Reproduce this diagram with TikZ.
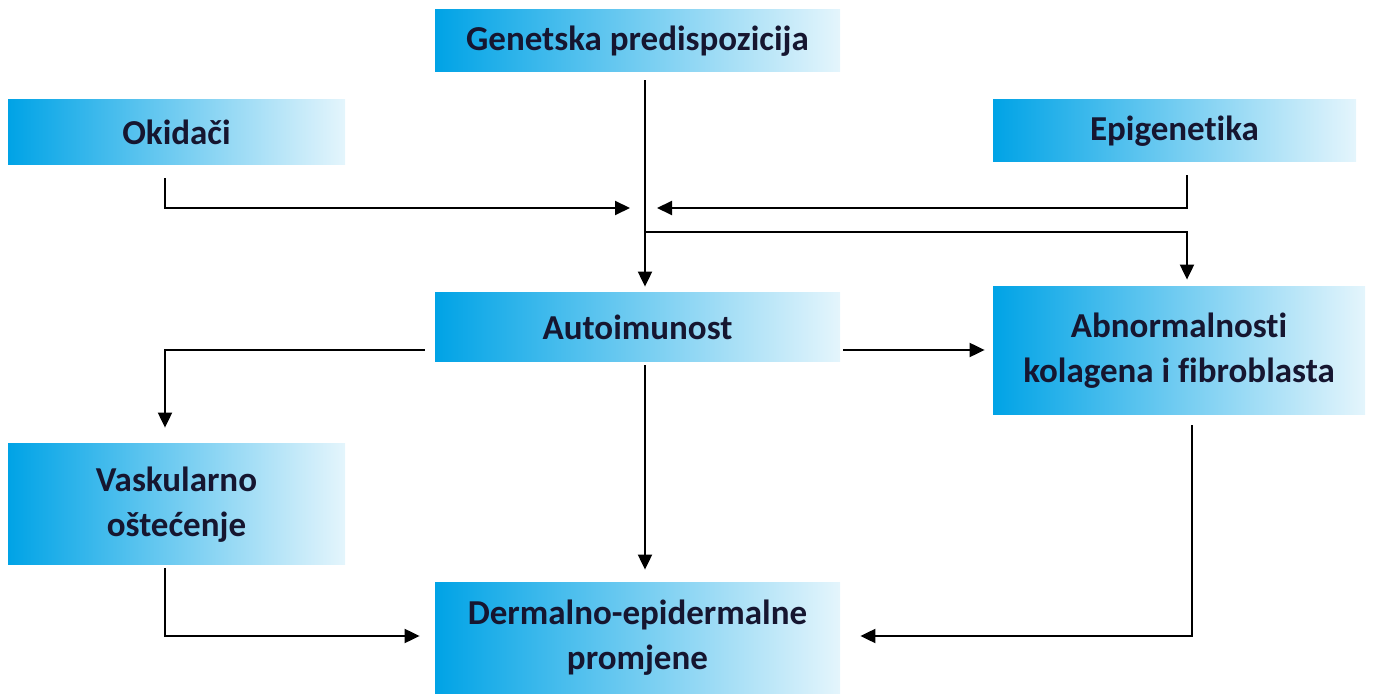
\documentclass[tikz,border=0pt]{standalone}
\usepackage{fontspec}
\setmainfont[Ligatures=NoCommon]{Carlito}
\usetikzlibrary{arrows.meta}
\definecolor{gL}{HTML}{00A3E6}
\definecolor{gR}{HTML}{E4F5FC}
\definecolor{txt}{HTML}{161630}
\tikzset{
  box/.style={rectangle, left color=gL, right color=gR, draw=none, inner sep=0pt,
    align=center, text=txt, font=\fontsize{17.5}{22.5}\selectfont\bfseries},
  arr/.style={draw=black, line width=1pt, -{Triangle[length=7.5pt,width=7pt]}},
}
\begin{document}
\begin{tikzpicture}[x=0.5pt,y=-0.5pt]
\useasboundingbox (0,0) rectangle (1373,695);
\node[box, minimum width=202.5pt, minimum height=31pt] (gen) at (637.5,41) {Genetska predispozicija};
\node[box, minimum width=168.5pt, minimum height=32.5pt] (oki) at (176.5,132.5) {Okidači};
\node[box, minimum width=181.5pt, minimum height=31pt] (epi) at (1174.5,131) {Epigenetika};
\node[box, minimum width=202.5pt, minimum height=34.5pt] (auto) at (637.5,327.5) {Autoimunost};
\node[box, minimum width=186pt, minimum height=64pt] (abn) at (1179,351) {Abnormalnosti\\kolagena i fibroblasta};
\node[box, minimum width=168.5pt, minimum height=60.5pt] (vask) at (176.5,504.5) {Vaskularno\\oštećenje};
\node[box, minimum width=202.5pt, minimum height=55pt] (derm) at (637.5,638) {Dermalno-epidermalne\\promjene};

\coordinate (jc) at (645,232);
\coordinate (jl) at (630,208);
\coordinate (jr) at (657,208);
\coordinate (okc) at (165,208);
\coordinate (ec) at (1187,208);
\coordinate (vc) at (165,350);
\coordinate (dc) at (165,636);
\coordinate (ac) at (1192,636);

\draw[arr, shorten <=4pt, shorten >=3pt] (gen.south -| jc) -- (auto.north -| jc);
\draw[arr, shorten <=6.5pt] (oki.south -| okc) -- (okc) -- (jl);
\draw[arr, shorten <=6.5pt] (epi.south -| ec) -- (ec) -- (jr);
\draw[arr, shorten >=3.5pt] (jc) -- (jc -| ec) -- (abn.north -| ec);
\draw[arr, shorten <=5pt, shorten >=8pt] (vc -| auto.west) -- (vc) -- (vask.north -| vc);
\draw[arr, shorten <=1.5pt, shorten >=4pt] (vc -| auto.east) -- (vc -| abn.west);
\draw[arr, shorten <=1.5pt, shorten >=6.5pt] (auto.south -| jc) -- (derm.north -| jc);
\draw[arr, shorten <=1.5pt, shorten >=7.5pt] (vask.south -| dc) -- (dc) -- (dc -| derm.west);
\draw[arr, shorten <=5pt, shorten >=10pt] (abn.south -| ac) -- (ac) -- (ac -| derm.east);
\end{tikzpicture}
\end{document}
